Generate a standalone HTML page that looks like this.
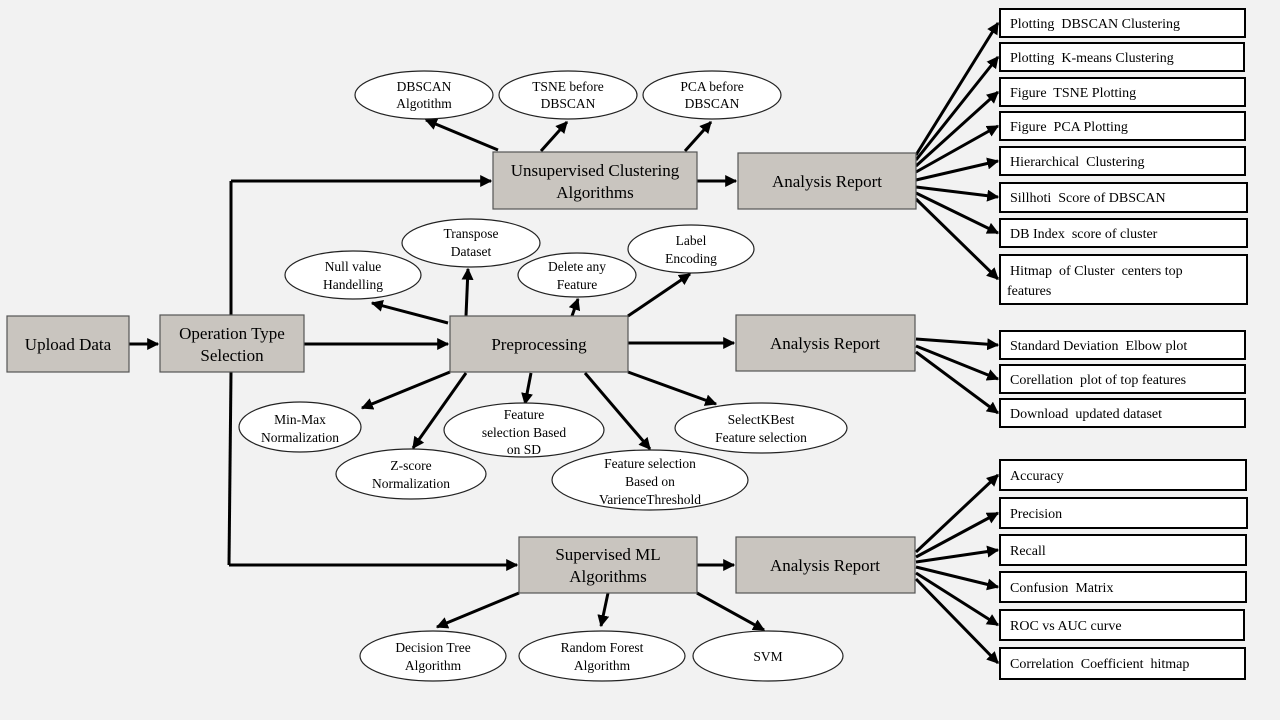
<!DOCTYPE html>
<html><head><meta charset="utf-8"><style>
html,body{margin:0;padding:0;background:#f2f2f2}
svg{display:block;font-family:"Liberation Serif",serif}
.b{fill:#c9c5bf;stroke:#555;stroke-width:1.2}
.w{fill:#fff;stroke:#000;stroke-width:2}
.e{fill:#fff;stroke:#222;stroke-width:1.2}
.l{stroke:#000;stroke-width:3;fill:none}
.a{stroke:#000;stroke-width:3;fill:none;marker-end:url(#m)}
.t{font-size:17px;text-anchor:middle}
.s{font-size:14px;white-space:pre}
.s text{white-space:pre}
.e2{font-size:13.5px;text-anchor:middle}
</style></head><body>
<svg width="1280" height="720" viewBox="0 0 1280 720">
<defs><marker id="m" viewBox="0 0 10 10" refX="9" refY="5" markerWidth="4" markerHeight="4" orient="auto"><path d="M0,0L10,5L0,10z" fill="#000"/></marker></defs>

<line class="a" x1="129" y1="344" x2="158" y2="344"/>
<line class="l" x1="231" y1="181" x2="231" y2="315"/>
<line class="l" x1="231" y1="372" x2="229" y2="565"/>
<line class="a" x1="231" y1="181" x2="491" y2="181"/>
<line class="a" x1="229" y1="565" x2="517" y2="565"/>
<line class="a" x1="304" y1="344" x2="448" y2="344"/>
<line class="a" x1="697" y1="181" x2="736" y2="181"/>
<line class="a" x1="628" y1="343" x2="734" y2="343"/>
<line class="a" x1="697" y1="565" x2="734" y2="565"/>

<line class="a" x1="498" y1="150" x2="426" y2="120"/>
<line class="a" x1="541" y1="151" x2="567" y2="122"/>
<line class="a" x1="685" y1="151" x2="711" y2="122"/>

<line class="a" x1="448" y1="323" x2="372" y2="303"/>
<line class="a" x1="466" y1="316" x2="468" y2="269"/>
<line class="a" x1="572" y1="316" x2="578" y2="299"/>
<line class="a" x1="628" y1="316" x2="690" y2="274"/>
<line class="a" x1="450" y1="372" x2="362" y2="408"/>
<line class="a" x1="466" y1="373" x2="413" y2="448"/>
<line class="a" x1="531" y1="373" x2="525" y2="404"/>
<line class="a" x1="585" y1="373" x2="650" y2="449"/>
<line class="a" x1="628" y1="372" x2="716" y2="404"/>

<line class="a" x1="519" y1="593" x2="437" y2="627"/>
<line class="a" x1="608" y1="593" x2="601" y2="626"/>
<line class="a" x1="697" y1="593" x2="764" y2="630"/>

<g>
<line class="a" x1="916" y1="155" x2="998" y2="23"/>
<line class="a" x1="916" y1="160" x2="998" y2="57"/>
<line class="a" x1="916" y1="166" x2="998" y2="92"/>
<line class="a" x1="916" y1="172" x2="998" y2="126"/>
<line class="a" x1="916" y1="180" x2="998" y2="161"/>
<line class="a" x1="916" y1="187" x2="998" y2="197"/>
<line class="a" x1="916" y1="193" x2="998" y2="233"/>
<line class="a" x1="916" y1="199" x2="998" y2="279"/>
<line class="a" x1="916" y1="339" x2="998" y2="345"/>
<line class="a" x1="916" y1="346" x2="998" y2="379"/>
<line class="a" x1="916" y1="352" x2="998" y2="413"/>
<line class="a" x1="916" y1="552" x2="998" y2="475"/>
<line class="a" x1="916" y1="557" x2="998" y2="513"/>
<line class="a" x1="916" y1="562" x2="998" y2="550"/>
<line class="a" x1="916" y1="567" x2="998" y2="587"/>
<line class="a" x1="916" y1="573" x2="998" y2="625"/>
<line class="a" x1="916" y1="579" x2="998" y2="663"/>
</g>

<rect class="b" x="7" y="316" width="122" height="56"/>
<text class="t" x="68" y="350">Upload Data</text>
<rect class="b" x="160" y="315" width="144" height="57"/>
<text class="t" x="232" y="339">Operation Type</text><text class="t" x="232" y="361">Selection</text>
<rect class="b" x="493" y="152" width="204" height="57"/>
<text class="t" x="595" y="176">Unsupervised Clustering</text><text class="t" x="595" y="198">Algorithms</text>
<rect class="b" x="450" y="316" width="178" height="56"/>
<text class="t" x="539" y="350">Preprocessing</text>
<rect class="b" x="519" y="537" width="178" height="56"/>
<text class="t" x="608" y="560">Supervised ML</text><text class="t" x="608" y="582">Algorithms</text>
<rect class="b" x="738" y="153" width="178" height="56"/>
<text class="t" x="827" y="187">Analysis Report</text>
<rect class="b" x="736" y="315" width="179" height="56"/>
<text class="t" x="825" y="349">Analysis Report</text>
<rect class="b" x="736" y="537" width="179" height="56"/>
<text class="t" x="825" y="571">Analysis Report</text>

<ellipse class="e" cx="424" cy="95" rx="69" ry="24"/><text class="e2" x="424" y="91">DBSCAN</text><text class="e2" x="424" y="108">Algotithm</text>
<ellipse class="e" cx="568" cy="95" rx="69" ry="24"/><text class="e2" x="568" y="91">TSNE before</text><text class="e2" x="568" y="108">DBSCAN</text>
<ellipse class="e" cx="712" cy="95" rx="69" ry="24"/><text class="e2" x="712" y="91">PCA before</text><text class="e2" x="712" y="108">DBSCAN</text>
<ellipse class="e" cx="471" cy="243" rx="69" ry="24"/><text class="e2" x="471" y="238">Transpose</text><text class="e2" x="471" y="256">Dataset</text>
<ellipse class="e" cx="353" cy="275" rx="68" ry="24"/><text class="e2" x="353" y="271">Null value</text><text class="e2" x="353" y="289">Handelling</text>
<ellipse class="e" cx="577" cy="275" rx="59" ry="22"/><text class="e2" x="577" y="271">Delete any</text><text class="e2" x="577" y="289">Feature</text>
<ellipse class="e" cx="691" cy="249" rx="63" ry="24"/><text class="e2" x="691" y="245">Label</text><text class="e2" x="691" y="263">Encoding</text>
<ellipse class="e" cx="300" cy="427" rx="61" ry="25"/><text class="e2" x="300" y="424">Min-Max</text><text class="e2" x="300" y="442">Normalization</text>
<ellipse class="e" cx="411" cy="474" rx="75" ry="25"/><text class="e2" x="411" y="470">Z-score</text><text class="e2" x="411" y="488">Normalization</text>
<ellipse class="e" cx="524" cy="430" rx="80" ry="27"/><text class="e2" x="524" y="419">Feature</text><text class="e2" x="524" y="437">selection Based</text><text class="e2" x="524" y="454">on SD</text>
<ellipse class="e" cx="650" cy="480" rx="98" ry="30"/><text class="e2" x="650" y="468">Feature selection</text><text class="e2" x="650" y="486">Based on</text><text class="e2" x="650" y="504">VarienceThreshold</text>
<ellipse class="e" cx="761" cy="428" rx="86" ry="25"/><text class="e2" x="761" y="424">SelectKBest</text><text class="e2" x="761" y="442">Feature selection</text>
<ellipse class="e" cx="433" cy="656" rx="73" ry="25"/><text class="e2" x="433" y="652">Decision Tree</text><text class="e2" x="433" y="670">Algorithm</text>
<ellipse class="e" cx="602" cy="656" rx="83" ry="25"/><text class="e2" x="602" y="652">Random Forest</text><text class="e2" x="602" y="670">Algorithm</text>
<ellipse class="e" cx="768" cy="656" rx="75" ry="25"/><text class="e2" x="768" y="661">SVM</text>

<g class="s">
<rect class="w" x="1000" y="9" width="245" height="28"/><text x="1010" y="28">Plotting  DBSCAN Clustering</text>
<rect class="w" x="1000" y="43" width="244" height="28"/><text x="1010" y="62">Plotting  K-means Clustering</text>
<rect class="w" x="1000" y="78" width="245" height="28"/><text x="1010" y="97">Figure  TSNE Plotting</text>
<rect class="w" x="1000" y="112" width="245" height="28"/><text x="1010" y="131">Figure  PCA Plotting</text>
<rect class="w" x="1000" y="147" width="245" height="28"/><text x="1010" y="166">Hierarchical  Clustering</text>
<rect class="w" x="1000" y="183" width="247" height="29"/><text x="1010" y="202">Sillhoti  Score of DBSCAN</text>
<rect class="w" x="1000" y="219" width="247" height="28"/><text x="1010" y="238">DB Index  score of cluster</text>
<rect class="w" x="1000" y="255" width="247" height="49"/><text x="1010" y="275">Hitmap  of Cluster  centers top</text><text x="1007" y="295">features</text>
<rect class="w" x="1000" y="331" width="245" height="28"/><text x="1010" y="350">Standard Deviation  Elbow plot</text>
<rect class="w" x="1000" y="365" width="245" height="28"/><text x="1010" y="384">Corellation  plot of top features</text>
<rect class="w" x="1000" y="399" width="245" height="28"/><text x="1010" y="418">Download  updated dataset</text>
<rect class="w" x="1000" y="460" width="246" height="30"/><text x="1010" y="480">Accuracy</text>
<rect class="w" x="1000" y="498" width="247" height="30"/><text x="1010" y="518">Precision</text>
<rect class="w" x="1000" y="535" width="246" height="30"/><text x="1010" y="555">Recall</text>
<rect class="w" x="1000" y="572" width="246" height="30"/><text x="1010" y="592">Confusion  Matrix</text>
<rect class="w" x="1000" y="610" width="244" height="30"/><text x="1010" y="630">ROC vs AUC curve</text>
<rect class="w" x="1000" y="648" width="245" height="31"/><text x="1010" y="668">Correlation  Coefficient  hitmap</text>
</g>
</svg>
</body></html>
